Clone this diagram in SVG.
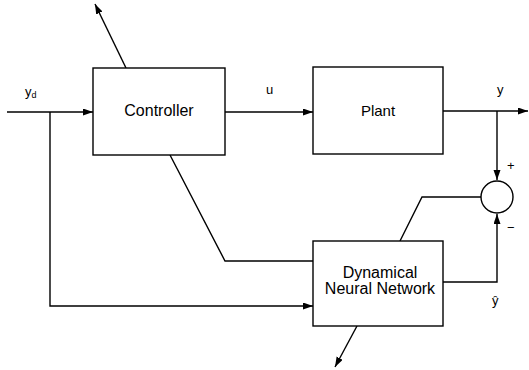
<svg xmlns="http://www.w3.org/2000/svg" width="529" height="370" viewBox="0 0 529 370">
<style>
.box{fill:#fff;stroke:#000;stroke-width:1.4}
.ln{fill:none;stroke:#000;stroke-width:1.4}
.t{font-family:"Liberation Sans",Arial,sans-serif;fill:#000}
.lbl{font-family:"Liberation Sans",Arial,sans-serif;fill:#000;font-size:13px}
</style>
<defs>
<marker id="ah" markerUnits="userSpaceOnUse" markerWidth="11" markerHeight="8" refX="10" refY="3.5" orient="auto">
<path d="M0,0 L10,3.5 L0,7 z" fill="#000"/>
</marker>
</defs>
<g id="connectors">
<path class="ln" d="M7,112 H93" marker-end="url(#ah)"/>
<path class="ln" d="M50,112 V306 H313" marker-end="url(#ah)"/>
<path class="ln" d="M225,112 H313" marker-end="url(#ah)"/>
<path class="ln" d="M443,111 H528" marker-end="url(#ah)"/>
<path class="ln" d="M497,111 V180" marker-end="url(#ah)"/>
<path class="ln" d="M443,282 H497 V214" marker-end="url(#ah)"/>
<path class="ln" d="M481,197 H422 L400,241"/>
<path class="ln" d="M170,155 L225,261 H313"/>
<path class="ln" d="M126,68 L95,4" marker-end="url(#ah)"/>
<path class="ln" d="M357,326 L335,367" marker-end="url(#ah)"/>
</g>
<g id="controller">
<rect class="box" x="93" y="68" width="132" height="87"/>
<text class="t" x="159" y="116" font-size="16" text-anchor="middle">Controller</text>
</g>
<g id="plant">
<rect class="box" x="313" y="67" width="130" height="87"/>
<text class="t" x="378" y="116" font-size="15" text-anchor="middle">Plant</text>
</g>
<g id="dnn">
<rect class="box" x="313" y="241" width="130" height="85"/>
<text class="t" x="380" y="278" font-size="16" text-anchor="middle">Dynamical</text>
<text class="t" x="380" y="294" font-size="16" text-anchor="middle">Neural Network</text>
</g>
<g id="sum">
<circle class="box" cx="497" cy="197" r="16"/>
</g>
<g id="labels">
<text class="lbl" x="25" y="96">y<tspan font-size="9" dy="2">d</tspan></text>
<text class="lbl" x="266" y="94">u</text>
<text class="lbl" x="497" y="94">y</text>
<text class="lbl" x="507" y="170" font-size="14">+</text>
<text class="lbl" x="507" y="232" font-size="14">−</text>
<text class="lbl" x="492" y="305">ŷ</text>
</g>
</svg>
